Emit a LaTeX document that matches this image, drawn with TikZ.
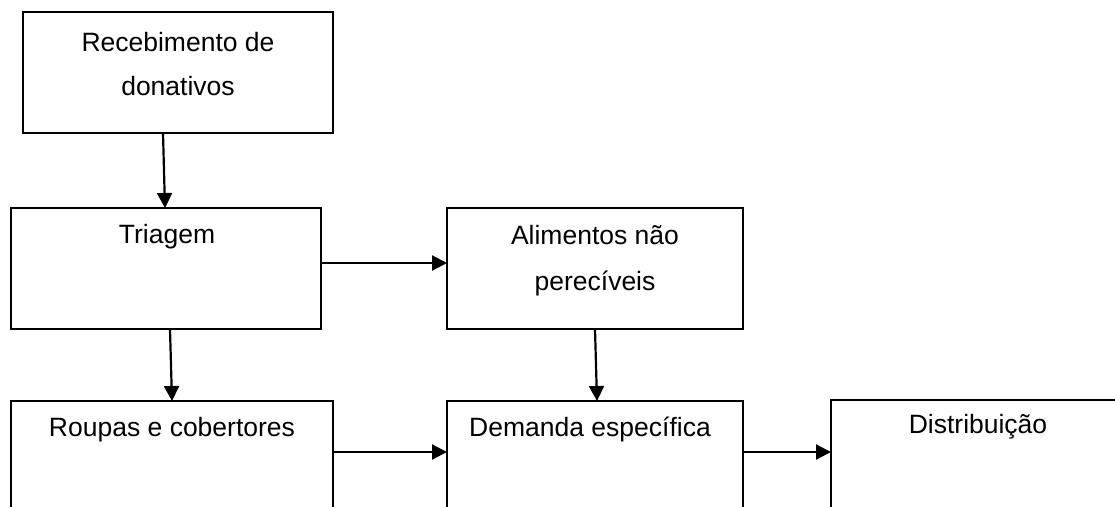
\documentclass[tikz,border=0pt]{standalone}
\usepackage{fontspec}
\setmainfont{Liberation Sans}
\usetikzlibrary{arrows.meta,calc}
\begin{document}
\begin{tikzpicture}[x=1pt,y=-1pt,
  box/.style={draw, line width=2pt, rectangle, anchor=north west, inner sep=0pt, outer sep=0pt},
  txt/.style={font=\fontsize{26.5}{45}\selectfont, anchor=base, align=center, inner sep=0pt},
  arr/.style={line width=2.2pt, -{Triangle[length=15pt,width=15pt]}}]
\useasboundingbox (0,0) rectangle (1115,506);
\clip (0,0) rectangle (1115,506);
\node[box, minimum width=310pt, minimum height=121pt] (b1) at (23,12) {};
\node[box, minimum width=310pt, minimum height=121pt] (b2) at (11,208) {};
\node[box, minimum width=296pt, minimum height=121pt] (b3) at (447,208) {};
\node[box, minimum width=322pt, minimum height=150pt] (b4) at (11,401) {};
\node[box, minimum width=296pt, minimum height=150pt] (b5) at (447,401) {};
\node[box, minimum width=320pt, minimum height=150pt] (b6) at (831,400) {};
\node[txt, font=\fontsize{26.5}{44}\selectfont] (t1) at (178,95) {Recebimento de\\donativos};
\node[txt] (t2) at (167,243) {Triagem};
\node[txt, font=\fontsize{26.5}{46}\selectfont] (t3) at (595,290) {Alimentos não\\perecíveis};
\node[txt] (t4) at (172,436) {Roupas e cobertores};
\node[txt] (t5) at (590,436) {Demanda específica};
\node[txt] (t6) at (978,433) {Distribuição};
\draw[arr] ($(b1.south west)+(140,0)$) -- ($(b2.north west)+(154,0)$);
\draw[arr] ($(b2.north east)+(0,55)$) -- ($(b3.north west)+(0,55)$);
\draw[arr] ($(b2.south west)+(159,0)$) -- ($(b4.north west)+(161,0)$);
\draw[arr] ($(b3.south west)+(148,0)$) -- ($(b5.north west)+(150,0)$);
\draw[arr] ($(b4.north east)+(0,51)$) -- ($(b5.north west)+(0,51)$);
\draw[arr] ($(b5.north east)+(0,51)$) -- ($(b6.north west)+(0,52)$);
\end{tikzpicture}
\end{document}
